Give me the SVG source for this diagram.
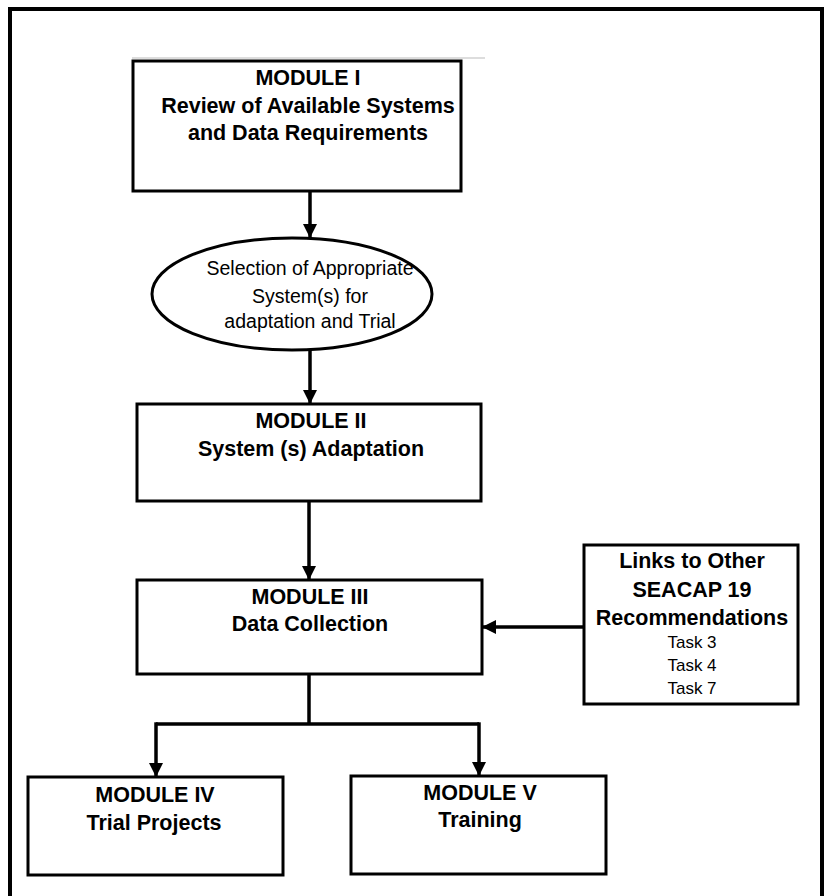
<svg xmlns="http://www.w3.org/2000/svg" width="827" height="896" viewBox="0 0 827 896">
<style>
.box{fill:#fff;stroke:#000;stroke-width:3}
.t{font-family:"Liberation Sans",Arial,sans-serif;font-size:21.5px;font-weight:bold;fill:#000;text-anchor:middle}
.r{font-family:"Liberation Sans",Arial,sans-serif;font-size:19.5px;fill:#000;text-anchor:middle}
.s{font-family:"Liberation Sans",Arial,sans-serif;font-size:17px;fill:#000;text-anchor:middle}
.c{fill:none;stroke:#000;stroke-width:3.5}
</style>
<defs>
<marker id="ah" markerUnits="userSpaceOnUse" markerWidth="14" markerHeight="16" refX="14" refY="7" orient="auto">
<path d="M0,0 L14,7 L0,14 Z" fill="#000"/>
</marker>
</defs>
<rect x="0" y="0" width="827" height="896" fill="#fff"/>
<rect x="10" y="9" width="812" height="910" fill="none" stroke="#000" stroke-width="4"/>
<line x1="132" y1="58" x2="485" y2="58" stroke="#bbb" stroke-width="1"/>

<g id="module1">
<rect class="box" x="133" y="61" width="328" height="130"/>
<text class="t" x="308" y="85">MODULE I</text>
<text class="t" x="308" y="113">Review of Available Systems</text>
<text class="t" x="308" y="140">and Data Requirements</text>
</g>

<g id="selection">
<ellipse cx="292" cy="294" rx="140" ry="56" fill="#fff" stroke="#000" stroke-width="3"/>
<text class="r" x="310" y="275">Selection of Appropriate</text>
<text class="r" x="310" y="303">System(s) for</text>
<text class="r" x="310" y="328">adaptation and Trial</text>
</g>

<g id="module2">
<rect class="box" x="137" y="404" width="344" height="97"/>
<text class="t" x="311" y="428">MODULE II</text>
<text class="t" x="311" y="456">System (s) Adaptation</text>
</g>

<g id="module3">
<rect class="box" x="137" y="580" width="345" height="94"/>
<text class="t" x="310" y="604">MODULE III</text>
<text class="t" x="310" y="631">Data Collection</text>
</g>

<g id="links">
<rect class="box" x="584" y="545" width="214" height="159"/>
<text class="t" x="692" y="568">Links to Other</text>
<text class="t" x="692" y="597">SEACAP 19</text>
<text class="t" x="692" y="625">Recommendations</text>
<text class="s" x="692" y="648">Task 3</text>
<text class="s" x="692" y="671">Task 4</text>
<text class="s" x="692" y="694">Task 7</text>
</g>

<g id="module4">
<rect class="box" x="28" y="777" width="255" height="98"/>
<text class="t" x="155" y="802">MODULE IV</text>
<text class="t" x="154" y="830">Trial Projects</text>
</g>

<g id="module5">
<rect class="box" x="351" y="776" width="255" height="98"/>
<text class="t" x="480" y="800">MODULE V</text>
<text class="t" x="480" y="827">Training</text>
</g>

<g id="connectors">
<line class="c" x1="310" y1="191" x2="310" y2="238" marker-end="url(#ah)"/>
<line class="c" x1="310" y1="350" x2="310" y2="404" marker-end="url(#ah)"/>
<line class="c" x1="309" y1="501" x2="309" y2="580" marker-end="url(#ah)"/>
<line class="c" x1="584" y1="627" x2="482" y2="627" marker-end="url(#ah)"/>
<polyline class="c" points="309,674 309,724"/>
<polyline class="c" points="156,724 479,724"/>
<line class="c" x1="156" y1="722.3" x2="156" y2="777" marker-end="url(#ah)"/>
<line class="c" x1="479" y1="722.3" x2="479" y2="776" marker-end="url(#ah)"/>
</g>
</svg>
